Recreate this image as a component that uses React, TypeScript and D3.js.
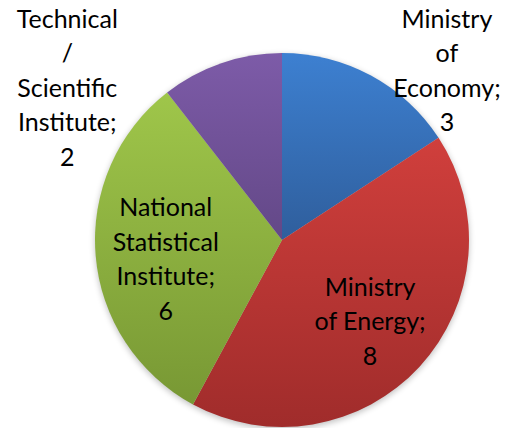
import * as React from 'react';
import * as d3 from 'd3';

const categories = ['Ministry of Economy', 'Ministry of Energy', 'National Statistical Institute', 'Technical / Scientific Institute'];
const values = [3, 8, 6, 2];
const labelLines = [
  ['Ministry', 'of', 'Economy;', '3'],
  ['Ministry', 'of Energy;', '8'],
  ['National', 'Statistical', 'Institute;', '6'],
  ['Technical', '/', 'Scientific', 'Institute;', '2'],
];
const topColors = ['#3d80d1', '#d03f3c', '#9fc64a', '#7d5ba8'];
const bottomColors = ['#2f5e9c', '#a02c2b', '#789834', '#634887'];

const W = 507, H = 428;
const cx = 282, cy = 240, R = 187;
const lineH = 34.5;

export default function App() {
  const pie = d3.pie<number>().sort(null).startAngle(0).endAngle(2 * Math.PI);
  const arcs = pie(values);
  const arc = d3.arc<d3.PieArcDatum<number>>().innerRadius(0).outerRadius(R);
  const labelArc = d3.arc<d3.PieArcDatum<number>>().innerRadius(R * 1.28).outerRadius(R * 1.28);
  const innerArc = d3.arc<d3.PieArcDatum<number>>().innerRadius(R * 0.64).outerRadius(R * 0.64);

  // labels nudged off the centroids, roughly where Excel put them
  const nudge = [[51, 41], [0, 0], [3, 9], [-137, 74]];
  const labelPos = arcs.map((a, i) => {
    const [x, y] = (i === 1 || i === 2) ? innerArc.centroid(a) : labelArc.centroid(a);
    return [x + nudge[i][0], y + nudge[i][1]];
  });

  return (
    <svg width={W} height={H} style={{ position: 'absolute', left: 0, top: 0 }}>
      <defs>
        {arcs.map((_, i) => (
          <linearGradient key={i} id={`g${i}`} x1="0" y1="0" x2="0" y2="1">
            <stop offset="0" stopColor={topColors[i]} />
            <stop offset="1" stopColor={bottomColors[i]} />
          </linearGradient>
        ))}
        <filter id="sh" x="-10%" y="-10%" width="120%" height="120%">
          <feGaussianBlur stdDeviation="3" />
        </filter>
      </defs>
      <rect width={W} height={H} fill="#fff" />
      <circle cx={cx} cy={cy + 2} r={R} fill="#000" opacity={0.25} filter="url(#sh)" />
      <g transform={`translate(${cx},${cy})`}>
        {arcs.map((a, i) => (
          <path key={categories[i]} d={arc(a) || ''} fill={`url(#g${i})`} />
        ))}
        {arcs.map((a, i) => {
          const [x, y] = labelPos[i];
          const lines = labelLines[i];
          const y0 = y - ((lines.length - 1) * lineH) / 2 + 9;
          return (
            <text key={`t${i}`} x={x} y={y0} textAnchor="middle" fontFamily="Lato, 'Open Sans', sans-serif" fontSize={25} fill="#000">
              {lines.map((l, j) => (
                <tspan key={j} x={x} y={y0 + j * lineH}>{l}</tspan>
              ))}
            </text>
          );
        })}
      </g>
    </svg>
  );
}
